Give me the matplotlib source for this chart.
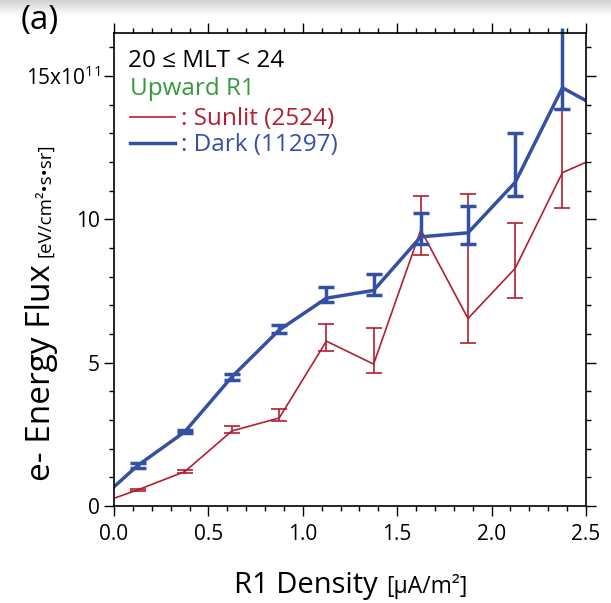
import numpy as np
import matplotlib
matplotlib.use("Agg")
import matplotlib.pyplot as plt
from matplotlib.ticker import MultipleLocator, FixedLocator, FixedFormatter

plt.rcParams['font.family'] = ['Open Sans', 'DejaVu Sans']
plt.rcParams['mathtext.fontset'] = 'custom'
plt.rcParams['mathtext.rm'] = 'Open Sans'
plt.rcParams['mathtext.it'] = 'Open Sans:italic'
plt.rcParams['mathtext.bf'] = 'Open Sans:bold'

# bin centres of R1 density (uA/m^2)
x_bins = [0.125, 0.375, 0.625, 0.875, 1.125, 1.375, 1.625, 1.875, 2.125, 2.375]
x_line = [0.0] + x_bins + [2.5]

# Sunlit (red), 1e11 eV/cm^2/s/sr
sunlit = [0.56, 1.20, 2.62, 3.07, 5.75, 4.95, 9.63, 6.54, 8.29, 11.63]
sunlit_lo = [0.51, 1.15, 2.54, 2.98, 5.41, 4.63, 8.75, 5.70, 7.24, 10.38]
sunlit_hi = [0.61, 1.25, 2.80, 3.40, 6.34, 6.20, 10.82, 10.88, 9.86, 13.86]
sunlit_ends = [0.27, 11.99]

# Dark (blue)
dark = [1.41, 2.59, 4.51, 6.14, 7.25, 7.52, 9.39, 9.53, 11.29, 14.59]
dark_lo = [1.33, 2.54, 4.41, 6.02, 7.12, 7.35, 9.13, 9.13, 10.81, 13.84]
dark_hi = [1.49, 2.64, 4.61, 6.30, 7.63, 8.10, 10.21, 10.46, 13.00, 16.66]
dark_ends = [0.67, 14.14]

RED = '#b21f30'
BLUE = '#3350a3'
GREEN = '#36993c'

fig = plt.figure(figsize=(6.11, 6.03), dpi=100)

# grey shade along the top edge
top = fig.add_axes([0, 1 - 16 / 603, 1, 16 / 603], zorder=-5)
top.imshow(np.linspace(0.82, 1.0, 32).reshape(-1, 1), cmap='gray', vmin=0, vmax=1,
           aspect='auto', extent=[0, 1, 0, 1])
top.axis('off')

ax = fig.add_axes([114 / 611, 1 - 506 / 603, 472 / 611, 473 / 603])

def draw(vals, lo, hi, ends, color, lw, cap):
    yerr = [np.array(vals) - np.array(lo), np.array(hi) - np.array(vals)]
    line, = ax.plot(x_line, [ends[0]] + vals + [ends[1]], color=color, lw=lw)
    eb = ax.errorbar(x_bins, vals, yerr=yerr, fmt='none', ecolor=color,
                     elinewidth=lw, capsize=cap, capthick=lw)
    for col in eb[2]:
        col.set_clip_on(False)
    return line

h1 = draw(sunlit, sunlit_lo, sunlit_hi, sunlit_ends, RED, 1.2, 6)
h2 = draw(dark, dark_lo, dark_hi, dark_ends, BLUE, 2.5, 6)

ax.set_xlim(0, 2.5)
ax.set_ylim(0, 16.5)

ax.xaxis.set_major_locator(MultipleLocator(0.5))
ax.xaxis.set_minor_locator(MultipleLocator(0.1))
ax.xaxis.set_major_formatter(matplotlib.ticker.FormatStrFormatter('%.1f'))
ax.yaxis.set_major_locator(FixedLocator([0, 5, 10, 15]))
ax.yaxis.set_major_formatter(FixedFormatter(['0', '5', '10', r'15x10$^{11}$']))
ax.yaxis.set_minor_locator(MultipleLocator(1))

ax.tick_params(which='both', direction='out', top=True, right=True, width=1.0,
               labelsize=15, colors='black')
ax.tick_params(which='major', length=7)
ax.tick_params(which='minor', length=3.8)
ax.tick_params(axis='x', pad=6)
ax.tick_params(axis='y', pad=3)
for s in ax.spines.values():
    s.set_linewidth(1.2)

# header and legend
ax.text(0.030, 0.929, '20 \u2264 MLT < 24', transform=ax.transAxes, fontsize=17.5,
        va='baseline', ha='left')
ax.text(0.034, 0.869, 'Upward R1', transform=ax.transAxes, fontsize=17.5,
        color=GREEN, va='baseline', ha='left')
ax.legend([h1, h2], [': Sunlit (2524)', ': Dark (11297)'], loc='upper left',
          bbox_to_anchor=(0.034, 0.843), frameon=False, fontsize=17.5,
          handlelength=1.85, handletextpad=0.25, labelspacing=0.08,
          borderpad=0, borderaxespad=0, labelcolor='linecolor')

# axis labels with smaller unit parts
fig.text(378 / 611, 1 - 593 / 603, 'R1 Density', fontsize=21, ha='right', va='baseline')
fig.text(386 / 611, 1 - 593 / 603, '[\u00b5A/m\u00b2]', fontsize=16.5, ha='left', va='baseline')
fig.text(50 / 611, 1 - 264 / 603, 'e- Energy Flux', fontsize=24, rotation=90,
         rotation_mode='anchor', ha='right', va='baseline')
fig.text(50 / 611, 1 - 257 / 603, '[eV/cm\u00b2\u2022s\u2022sr]', fontsize=13.5, rotation=90,
         rotation_mode='anchor', ha='left', va='baseline')

fig.text(21 / 611, 1 - 29 / 603, '(a)', fontsize=24, ha='left', va='baseline')

fig.savefig('out.png', dpi=100)
